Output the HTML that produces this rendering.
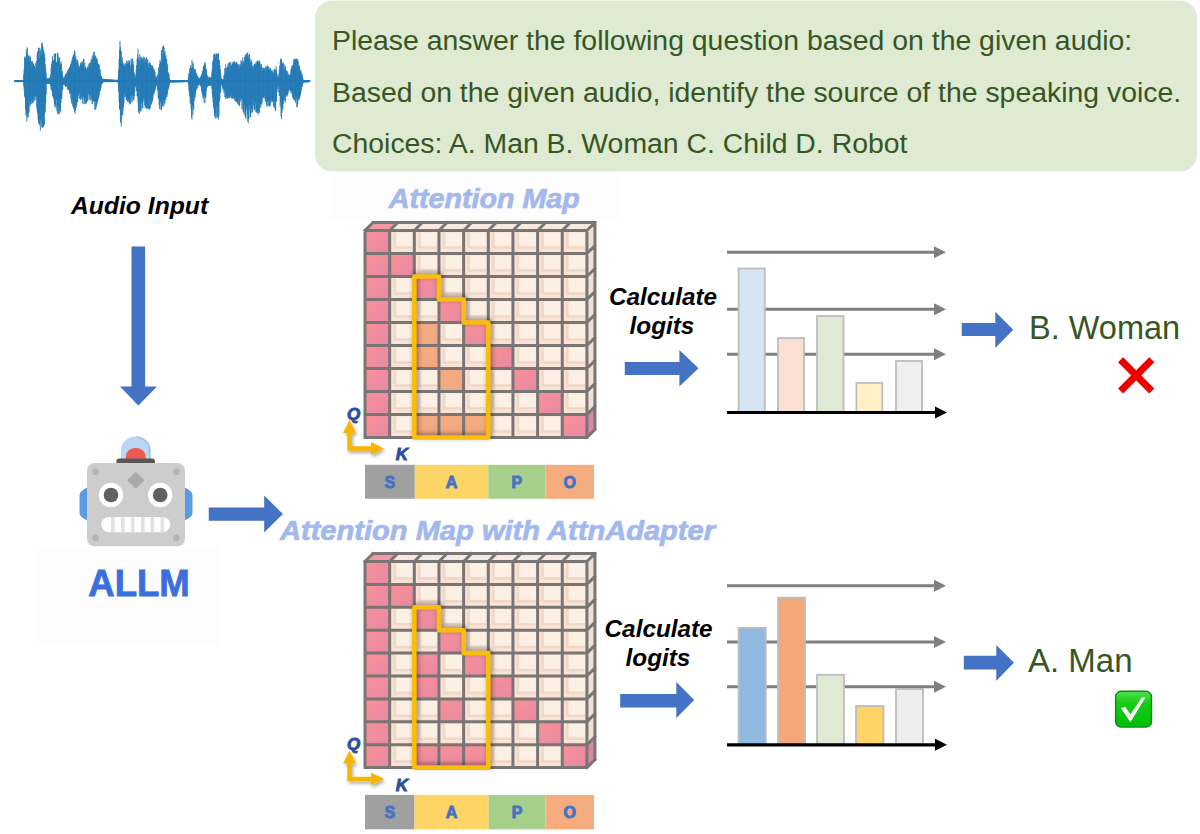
<!DOCTYPE html>
<html><head><meta charset="utf-8"><style>
html,body{margin:0;padding:0;background:#fff;width:1200px;height:834px;overflow:hidden}
svg{display:block}
text{font-family:"Liberation Sans",sans-serif}
</style></head><body>
<svg width="1200" height="834" viewBox="0 0 1200 834">
<defs>
<linearGradient id="pk" x1="0" y1="0" x2="1" y2="1"><stop offset="0" stop-color="#fb9098"/><stop offset="1" stop-color="#e48aa2"/></linearGradient>
<linearGradient id="or" x1="0" y1="0" x2="1" y2="1"><stop offset="0" stop-color="#f7aa80"/><stop offset="1" stop-color="#f0a884"/></linearGradient>
<filter id="blur" x="-20%" y="-20%" width="140%" height="140%"><feGaussianBlur stdDeviation="2.5"/></filter>
<filter id="sh" x="-30%" y="-30%" width="160%" height="160%"><feDropShadow dx="1.5" dy="2.5" stdDeviation="1.5" flood-color="#000" flood-opacity="0.3"/></filter>
</defs>
<rect width="1200" height="834" fill="#fff"/>
<rect x="315" y="0.5" width="882" height="171" rx="17" fill="#deead2"/><g fill="#375623" font-size="28.4"><text x="332" y="50.2">Please answer the following question based on the given audio:</text><text x="332" y="101.7">Based on the given audio, identify the source of the speaking voice.</text><text x="332" y="152.7">Choices: A. Man B. Woman C. Child D. Robot</text></g><path d="M14.67 80.07V82.07M15.12 80.07V82.07M15.57 80.07V82.07M16.02 80.07V82.07M16.47 80.07V82.07M16.92 80.07V82.07M17.37 80.07V82.07M17.82 80.07V82.07M18.27 80.07V82.07M18.72 80.07V82.07M19.17 80.07V82.07M19.62 80.07V82.07M20.07 80.07V82.07M20.52 80.07V82.07M20.97 80.07V82.07M21.42 80.07V82.07M21.87 80.07V82.07M22.32 80.07V82.07M22.77 80.07V82.07M23.22 80.07V82.07M23.67 74.23V86.30M24.12 68.79V90.54M24.57 57.45V96.44M25.02 56.29V97.68M25.47 57.73V109.19M25.92 62.18V115.44M26.37 51.42V113.64M26.82 48.80V121.76M27.27 47.30V116.76M27.72 54.67V116.81M28.17 58.25V117.79M28.62 55.66V112.90M29.07 55.24V112.81M29.52 60.53V102.19M29.97 56.75V106.59M30.42 56.63V104.33M30.87 60.95V97.12M31.32 64.41V104.29M31.77 61.07V101.02M32.22 61.27V102.58M32.67 62.28V103.38M33.12 63.13V98.74M33.57 64.09V102.38M34.02 65.56V96.57M34.47 65.92V100.78M34.92 66.85V95.81M35.37 68.01V95.82M35.82 63.05V99.82M36.27 60.97V96.92M36.72 65.36V107.18M37.17 54.32V111.24M37.62 51.40V113.63M38.07 51.68V119.54M38.52 47.58V122.45M38.97 47.89V124.19M39.42 57.89V124.22M39.87 47.87V125.59M40.32 49.74V130.79M40.77 54.67V120.09M41.22 53.37V119.05M41.67 43.61V127.21M42.12 42.25V122.66M42.57 44.53V127.88M43.02 47.10V127.14M43.47 49.97V126.74M43.92 51.47V126.01M44.37 53.82V124.23M44.82 57.09V110.88M45.27 64.42V112.74M45.72 67.75V102.97M46.17 73.08V94.28M46.62 78.17V83.75M47.07 78.65V83.93M47.52 78.56V83.93M47.97 78.47V83.93M48.42 78.38V83.93M48.87 78.29V83.93M49.32 78.20V83.93M49.77 78.11V83.93M50.22 76.39V83.85M50.67 74.27V86.53M51.12 68.10V89.50M51.57 63.95V89.95M52.02 61.48V91.74M52.47 56.36V96.57M52.92 60.02V92.53M53.37 60.74V96.88M53.82 59.97V99.64M54.27 53.81V103.51M54.72 54.22V106.40M55.17 53.32V107.12M55.62 53.56V104.49M56.07 62.60V108.34M56.52 62.05V99.91M56.97 62.41V111.12M57.42 52.98V112.90M57.87 52.81V114.10M58.32 56.72V105.37M58.77 61.25V114.44M59.22 59.36V109.73M59.67 57.41V113.74M60.12 65.37V110.72M60.57 63.87V111.68M61.02 61.39V102.98M61.47 63.73V99.02M61.92 71.87V98.51M62.37 71.10V90.06M62.82 75.47V89.50M63.27 78.20V84.63M63.72 77.97V84.41M64.17 76.98V84.25M64.62 77.67V85.11M65.07 75.26V85.84M65.52 74.20V86.81M65.97 75.86V86.64M66.42 73.12V85.91M66.87 72.18V86.65M67.32 73.29V89.07M67.77 70.40V89.56M68.22 69.66V89.41M68.67 68.95V90.46M69.12 68.08V89.33M69.57 67.31V93.86M70.02 66.93V91.97M70.47 64.64V93.08M70.92 63.65V98.66M71.37 62.40V101.99M71.82 60.43V103.72M72.27 57.88V100.37M72.72 56.48V106.00M73.17 59.32V106.92M73.62 53.99V109.04M74.07 54.41V106.46M74.52 50.39V111.93M74.97 51.17V113.93M75.42 58.01V110.50M75.87 56.18V105.26M76.32 62.99V107.87M76.77 59.36V105.73M77.22 59.73V102.08M77.67 60.67V102.30M78.12 62.20V95.47M78.57 65.32V95.36M79.02 69.46V98.72M79.47 66.18V92.50M79.92 68.20V98.72M80.37 63.46V98.66M80.82 62.78V100.15M81.27 62.11V98.37M81.72 65.46V95.94M82.17 60.85V99.19M82.62 62.92V103.47M83.07 65.43V96.22M83.52 58.98V97.06M83.97 59.00V104.36M84.42 67.98V99.65M84.87 62.91V103.88M85.32 66.44V103.87M85.77 67.87V103.46M86.22 70.72V103.44M86.67 69.04V101.86M87.12 67.15V101.90M87.57 68.06V100.42M88.02 65.61V94.01M88.47 68.18V93.92M88.92 64.08V100.08M89.37 63.29V96.05M89.82 62.78V99.28M90.27 62.32V94.16M90.72 65.00V100.52M91.17 59.07V95.47M91.62 59.93V99.48M92.07 56.55V103.89M92.52 59.13V103.87M92.97 54.07V97.93M93.42 56.26V101.36M93.87 51.60V101.11M94.32 52.04V101.74M94.77 54.66V109.41M95.22 56.65V101.72M95.67 55.87V110.03M96.12 58.53V107.95M96.57 57.86V106.29M97.02 58.99V104.37M97.47 60.57V102.26M97.92 65.04V100.49M98.37 63.70V98.88M98.82 64.08V97.12M99.27 64.97V95.26M99.72 69.34V92.38M100.17 69.31V90.96M100.62 74.48V89.69M101.07 75.43V87.55M101.52 76.48V84.92M101.97 78.57V84.07M102.42 78.77V83.35M102.87 78.81V82.72M103.32 78.84V82.09M103.77 78.88V82.07M104.22 78.92V82.07M104.67 78.96V82.07M105.12 78.99V82.07M105.57 79.03V82.07M106.02 79.07V82.07M106.47 79.11V82.07M106.92 79.14V82.07M107.37 79.18V82.07M107.82 79.22V82.07M108.27 79.26V82.07M108.72 79.29V82.07M109.17 79.33V82.07M109.62 79.37V82.07M110.07 79.41V82.07M110.52 79.44V82.07M110.97 79.48V82.07M111.42 79.52V82.07M111.87 79.56V82.07M112.32 79.59V82.07M112.77 79.63V82.07M113.22 79.67V82.07M113.67 79.71V82.07M114.12 79.74V82.07M114.57 79.78V82.07M115.02 79.82V82.07M115.47 79.86V82.07M115.92 79.89V82.07M116.37 79.93V82.07M116.82 79.97V82.07M117.27 80.01V82.07M117.72 80.04V82.07M118.17 77.11V84.17M118.62 69.67V91.78M119.07 59.03V102.07M119.52 49.93V109.63M119.97 40.95V109.70M120.42 46.53V121.84M120.87 50.42V123.12M121.32 51.47V126.49M121.77 58.75V114.92M122.22 57.48V115.74M122.67 61.86V114.89M123.12 65.39V110.67M123.57 63.40V106.82M124.02 66.12V103.15M124.47 65.95V92.96M124.92 63.56V97.48M125.37 63.14V96.09M125.82 65.42V97.18M126.27 63.77V99.78M126.72 61.02V100.14M127.17 64.28V100.57M127.62 62.17V101.53M128.07 59.93V101.81M128.52 62.57V99.44M128.97 62.43V102.89M129.42 60.78V102.58M129.87 60.28V104.39M130.32 65.21V104.12M130.77 66.72V96.52M131.22 58.58V102.15M131.67 63.64V95.29M132.12 59.44V102.12M132.57 58.29V95.11M133.02 60.94V99.51M133.47 64.31V99.54M133.92 72.12V100.52M134.37 73.40V96.33M134.82 76.35V91.80M135.27 78.23V87.56M135.72 74.73V86.34M136.17 69.24V85.69M136.62 65.01V91.12M137.07 59.10V96.23M137.52 54.52V96.86M137.97 48.85V102.44M138.42 57.34V112.57M138.87 60.35V109.64M139.32 60.59V113.86M139.77 54.21V112.44M140.22 64.59V109.62M140.67 56.54V110.64M141.12 57.39V111.26M141.57 58.29V103.35M142.02 59.77V100.46M142.47 58.52V108.49M142.92 58.79V107.92M143.37 56.75V98.44M143.82 62.11V101.58M144.27 56.91V99.66M144.72 61.95V105.64M145.17 58.20V108.10M145.62 59.17V106.88M146.07 60.24V105.00M146.52 56.81V108.65M146.97 64.76V108.78M147.42 59.57V108.29M147.87 59.58V104.19M148.32 67.55V109.03M148.77 63.60V109.05M149.22 63.24V108.71M149.67 62.20V109.84M150.12 62.83V101.16M150.57 64.44V107.72M151.02 68.90V96.79M151.47 65.28V104.49M151.92 65.11V102.84M152.37 65.99V101.14M152.82 66.33V99.22M153.27 68.05V93.12M153.72 69.81V95.45M154.17 68.90V93.33M154.62 70.58V92.17M155.07 72.09V90.45M155.52 76.28V88.72M155.97 76.12V86.25M156.42 77.73V85.00M156.87 77.63V85.81M157.32 75.21V89.60M157.77 75.22V90.97M158.22 72.82V98.37M158.67 67.35V99.10M159.12 69.42V105.21M159.57 63.93V108.91M160.02 59.87V100.41M160.47 61.96V102.30M160.92 63.03V109.69M161.37 50.22V110.29M161.82 49.75V106.43M162.27 56.34V106.07M162.72 46.87V105.41M163.17 45.68V107.29M163.62 45.52V102.63M164.07 47.70V98.78M164.52 53.29V104.65M164.97 51.14V103.30M165.42 56.38V98.80M165.87 54.83V100.47M166.32 58.48V97.20M166.77 59.53V97.14M167.22 63.75V95.24M167.67 64.98V92.56M168.12 72.13V89.93M168.57 73.42V88.67M169.02 73.64V87.02M169.47 77.92V84.50M169.92 79.53V82.97M170.37 80.07V82.59M170.82 80.07V82.58M171.27 80.07V82.56M171.72 80.07V82.55M172.17 80.07V82.54M172.62 80.07V82.52M173.07 80.07V82.51M173.52 80.07V82.50M173.97 80.07V82.48M174.42 80.07V82.47M174.87 80.07V82.46M175.32 80.07V82.44M175.77 80.07V82.43M176.22 80.07V82.42M176.67 80.07V82.40M177.12 80.07V82.39M177.57 80.07V82.38M178.02 80.07V82.36M178.47 80.07V82.35M178.92 80.07V82.34M179.37 80.07V82.32M179.82 80.07V82.31M180.27 80.07V82.30M180.72 80.07V82.28M181.17 80.07V82.27M181.62 80.07V82.26M182.07 80.07V82.24M182.52 80.07V82.23M182.97 80.07V82.22M183.42 80.07V82.20M183.87 80.07V82.19M184.32 80.07V82.18M184.77 80.07V82.16M185.22 80.07V82.15M185.67 80.07V82.14M186.12 80.07V82.12M186.57 80.07V82.11M187.02 80.07V82.10M187.47 80.07V82.08M187.92 80.07V82.07M188.37 77.06V84.56M188.82 72.78V90.19M189.27 74.11V93.33M189.72 69.02V96.41M190.17 67.30V103.60M190.62 65.15V103.32M191.07 68.66V109.14M191.52 67.83V117.57M191.97 59.81V119.67M192.42 67.46V106.22M192.87 62.36V115.19M193.32 63.67V110.04M193.77 69.31V108.35M194.22 68.59V100.71M194.67 69.69V97.37M195.12 69.34V97.46M195.57 69.81V93.90M196.02 73.14V90.83M196.47 72.86V88.46M196.92 74.50V89.29M197.37 75.97V87.92M197.82 76.53V85.50M198.27 77.91V84.98M198.72 77.40V86.20M199.17 77.90V85.18M199.62 78.35V84.57M200.07 78.50V84.24M200.52 77.25V85.74M200.97 76.19V86.79M201.42 74.54V90.65M201.87 74.10V92.59M202.32 71.28V94.47M202.77 70.84V96.92M203.22 67.24V98.94M203.67 65.52V95.67M204.12 65.48V102.87M204.57 62.92V96.42M205.02 62.01V103.23M205.47 65.10V97.72M205.92 70.41V96.94M206.37 68.72V90.88M206.82 73.89V87.74M207.27 75.39V87.13M207.72 76.07V86.59M208.17 77.76V85.98M208.62 77.70V86.16M209.07 77.60V85.92M209.52 76.73V85.10M209.97 78.06V85.84M210.42 77.36V85.22M210.87 77.18V85.41M211.32 77.31V85.35M211.77 72.35V88.80M212.22 68.79V94.02M212.67 61.74V98.16M213.12 60.02V102.89M213.57 54.46V107.27M214.02 59.63V109.30M214.47 53.68V116.31M214.92 54.58V115.22M215.37 56.87V118.54M215.82 53.44V112.93M216.27 54.34V118.27M216.72 53.65V106.16M217.17 53.56V115.67M217.62 53.68V117.71M218.07 60.22V104.93M218.52 53.49V119.40M218.97 59.90V115.44M219.42 59.93V101.27M219.87 65.06V98.44M220.32 69.21V93.08M220.77 73.55V91.55M221.22 77.62V85.22M221.67 78.96V84.16M222.12 79.26V86.33M222.57 79.56V88.17M223.02 79.86V90.21M223.47 79.00V88.73M223.92 75.26V92.97M224.37 73.55V90.53M224.82 67.92V97.12M225.27 69.61V92.58M225.72 64.51V99.00M226.17 68.80V98.27M226.62 68.37V96.76M227.07 67.17V98.59M227.52 66.58V98.39M227.97 63.39V94.14M228.42 66.88V98.22M228.87 62.52V97.55M229.32 63.58V97.50M229.77 62.13V97.77M230.22 65.19V93.06M230.67 61.86V96.25M231.12 65.37V98.08M231.57 66.33V98.40M232.02 63.56V97.29M232.47 63.70V98.77M232.92 62.13V97.68M233.37 62.05V97.34M233.82 62.05V99.25M234.27 60.93V98.31M234.72 62.14V100.66M235.17 64.99V97.13M235.62 62.53V101.45M236.07 62.91V101.91M236.52 62.14V101.51M236.97 62.43V101.97M237.42 64.00V103.60M237.87 65.21V104.14M238.32 66.40V99.94M238.77 64.67V105.27M239.22 64.00V105.01M239.67 68.39V106.32M240.12 66.47V97.22M240.57 64.29V101.48M241.02 60.25V98.27M241.47 60.84V99.25M241.92 65.55V109.05M242.37 62.92V100.62M242.82 57.48V109.70M243.27 61.37V111.68M243.72 63.45V112.59M244.17 61.59V114.24M244.62 57.13V104.92M245.07 55.12V116.41M245.52 56.30V117.35M245.97 54.00V119.23M246.42 53.64V107.85M246.87 57.12V110.11M247.32 52.73V114.45M247.77 52.19V121.12M248.22 55.29V123.24M248.67 59.30V119.44M249.12 55.32V110.36M249.57 53.90V105.60M250.02 58.28V117.56M250.47 61.80V117.08M250.92 66.42V112.79M251.37 59.80V108.22M251.82 61.49V113.25M252.27 65.26V112.01M252.72 67.23V110.26M253.17 66.49V98.95M253.62 66.27V105.26M254.07 64.54V109.67M254.52 63.73V110.15M254.97 65.26V109.43M255.42 64.09V102.64M255.87 62.38V111.69M256.32 64.36V112.56M256.77 61.41V112.22M257.22 60.98V112.77M257.67 60.67V111.00M258.12 62.14V114.64M258.57 62.05V113.42M259.02 60.14V103.62M259.47 61.12V112.81M259.92 61.73V107.65M260.37 67.46V103.97M260.82 64.01V108.02M261.27 64.14V103.61M261.72 66.38V104.71M262.17 67.68V102.74M262.62 71.16V98.66M263.07 67.54V95.08M263.52 68.20V97.94M263.97 69.48V97.67M264.42 68.43V95.41M264.87 67.73V98.77M265.32 71.51V101.74M265.77 66.44V100.78M266.22 66.70V101.65M266.67 68.54V105.85M267.12 65.63V106.87M267.57 65.69V100.91M268.02 69.10V105.29M268.47 66.43V102.14M268.92 69.35V106.68M269.37 69.62V105.91M269.82 67.67V106.32M270.27 68.04V105.42M270.72 68.59V100.18M271.17 70.50V97.98M271.62 70.93V102.35M272.07 70.38V101.04M272.52 72.06V101.61M272.97 70.28V101.58M273.42 73.89V105.54M273.87 72.48V106.98M274.32 68.58V107.94M274.77 69.89V100.09M275.22 69.16V110.00M275.67 69.82V111.20M276.12 65.99V102.17M276.57 70.61V101.10M277.02 73.73V92.10M277.47 76.29V89.18M277.92 79.46V84.27M278.37 77.20V86.84M278.82 74.01V92.52M279.27 69.70V95.68M279.72 65.92V96.02M280.17 62.26V107.21M280.62 58.53V102.22M281.07 59.38V116.75M281.52 59.58V118.88M281.97 63.49V112.51M282.42 64.21V108.86M282.87 61.97V109.62M283.32 63.31V104.00M283.77 67.55V100.93M284.22 64.36V99.98M284.67 69.90V97.03M285.12 65.96V102.66M285.57 66.90V101.13M286.02 71.18V95.57M286.47 70.47V94.35M286.92 71.40V96.70M287.37 71.22V95.56M287.82 73.87V94.09M288.27 73.53V92.29M288.72 74.45V91.27M289.17 75.62V88.61M289.62 74.95V89.98M290.07 75.59V90.59M290.52 73.50V91.09M290.97 69.21V92.92M291.42 67.99V91.88M291.87 65.91V93.33M292.32 65.03V96.54M292.77 66.80V97.73M293.22 64.79V98.75M293.67 59.34V99.78M294.12 63.38V93.89M294.57 59.03V100.73M295.02 60.30V98.43M295.47 58.85V102.73M295.92 59.17V99.52M296.37 58.71V98.09M296.82 58.63V107.27M297.27 61.66V106.73M297.72 59.36V103.85M298.17 60.79V100.04M298.62 65.11V98.49M299.07 65.73V100.50M299.52 65.76V98.42M299.97 70.63V97.08M300.42 71.65V95.11M300.87 69.60V92.97M301.32 73.82V90.48M301.77 72.71V87.02M302.22 74.37V86.92M302.67 76.93V84.66M303.12 78.98V83.47M303.57 80.07V82.58M304.02 80.07V82.55M304.47 80.07V82.51M304.92 80.07V82.47M305.37 80.07V82.44M305.82 80.07V82.40M306.27 80.07V82.37M306.72 80.07V82.33M307.17 80.07V82.29M307.62 80.07V82.26M308.07 80.07V82.22M308.52 80.07V82.19M308.97 80.07V82.15M309.42 80.07V82.11M309.87 80.07V82.08" stroke="#1f77b4" stroke-width="0.9" fill="none"/><line x1="14.7" y1="81.07" x2="310.0" y2="81.07" stroke="#1f77b4" stroke-width="1.1"/><text x="71" y="213.7" font-size="24.7" font-weight="bold" font-style="italic" fill="#000">Audio Input</text><path d="M131.5,246.4 H145.1 V386.6 H157 L138.3,405.5 L120,386.6 H131.5 Z" fill="#4472c4"/><path d="M87,487.5 L83,490 Q79.5,492 79.5,496 L79.5,512 Q79.5,516 83,518 L87,520.5 Z" fill="#5b9be0"/><path d="M185,487.5 L189,490 Q192.5,492 192.5,496 L192.5,512 Q192.5,516 189,518 L185,520.5 Z" fill="#5b9be0"/><path d="M121,459 L121,450 A14.75,13.5 0 0 1 150.5,450 L150.5,459 Z" fill="#b9d6f2"/><path d="M136,436.8 A14.75,13.5 0 0 1 149.8,450 L149.8,459" stroke="#9dbcd8" stroke-width="1.3" fill="none"/><path d="M126,459 L126,456 A9.75,8 0 0 1 145.5,456 L145.5,459 Z" fill="#ee5a4f"/><path d="M119,458.5 H152 Q155,458.5 155,462 V463.5 H116.3 V462 Q116.3,458.5 119,458.5 Z" fill="#575757"/><rect x="87" y="463" width="98" height="83.5" rx="8" fill="#cdcdcd"/><circle cx="95.6" cy="471.7" r="3.4" fill="#b5b5b5"/><circle cx="176.4" cy="471.7" r="3.4" fill="#b5b5b5"/><circle cx="95.6" cy="537.9" r="3.4" fill="#b5b5b5"/><circle cx="176.4" cy="537.9" r="3.4" fill="#b5b5b5"/><rect x="129.6" y="474.2" width="12.2" height="12.2" rx="1.5" fill="#a9a9a9" transform="rotate(45 135.7 480.3)"/><circle cx="111" cy="495" r="12.2" fill="#fff"/><circle cx="111" cy="495" r="7.3" fill="#616161"/><circle cx="160.2" cy="495" r="12.2" fill="#fff"/><circle cx="160.2" cy="495" r="7.3" fill="#616161"/><rect x="101.3" y="517" width="69" height="15.2" rx="7.6" fill="#fff"/><rect x="111" y="517" width="3.6" height="15.2" fill="#e2e2e2"/><rect x="121" y="517" width="3.6" height="15.2" fill="#e2e2e2"/><rect x="131" y="517" width="3.6" height="15.2" fill="#e2e2e2"/><rect x="141" y="517" width="3.6" height="15.2" fill="#e2e2e2"/><rect x="150.5" y="517" width="3.6" height="15.2" fill="#e2e2e2"/><rect x="160.5" y="517" width="3.6" height="15.2" fill="#e2e2e2"/><rect x="37.4" y="546.5" width="182.6" height="99" fill="#fdfdfd"/><text x="88.3" y="596.2" font-size="36.3" font-weight="bold" fill="#3b6fdc" stroke="#3b6fdc" stroke-width="0.8" textLength="101.5" lengthAdjust="spacingAndGlyphs">ALLM</text><path d="M208.75,507.5 L264.2,507.5 L264.2,495.4 L282.9,513.95 L264.2,532.5 L264.2,520.8 L208.75,520.8 Z" fill="#4472c4"/><rect x="330" y="174" width="289" height="45.5" fill="#fdfdfd"/><text x="388.75" y="208" font-size="27" font-weight="bold" font-style="italic" fill="#a3b8ee" stroke="#a3b8ee" stroke-width="0.7" textLength="191" lengthAdjust="spacingAndGlyphs">Attention Map</text><text x="280" y="540.3" font-size="27" font-weight="bold" font-style="italic" fill="#a3b8ee" stroke="#a3b8ee" stroke-width="0.7" textLength="435" lengthAdjust="spacingAndGlyphs">Attention Map with AttnAdapter</text><polygon points="365.00,230.50 373.00,222.50 397.66,222.50 389.66,230.50" fill="#f29aa3"/><polygon points="389.66,230.50 397.66,222.50 422.32,222.50 414.32,230.50" fill="#f7e9df"/><polygon points="414.32,230.50 422.32,222.50 446.98,222.50 438.98,230.50" fill="#f7e9df"/><polygon points="438.98,230.50 446.98,222.50 471.64,222.50 463.64,230.50" fill="#f7e9df"/><polygon points="463.64,230.50 471.64,222.50 496.30,222.50 488.30,230.50" fill="#f7e9df"/><polygon points="488.30,230.50 496.30,222.50 520.96,222.50 512.96,230.50" fill="#f7e9df"/><polygon points="512.96,230.50 520.96,222.50 545.62,222.50 537.62,230.50" fill="#f7e9df"/><polygon points="537.62,230.50 545.62,222.50 570.28,222.50 562.28,230.50" fill="#f7e9df"/><polygon points="562.28,230.50 570.28,222.50 594.94,222.50 586.94,230.50" fill="#f7e9df"/><polygon points="586.94,230.50 594.94,222.50 594.94,245.50 586.94,253.50" fill="#f0e0d6"/><polygon points="586.94,253.50 594.94,245.50 594.94,268.50 586.94,276.50" fill="#f0e0d6"/><polygon points="586.94,276.50 594.94,268.50 594.94,291.50 586.94,299.50" fill="#f0e0d6"/><polygon points="586.94,299.50 594.94,291.50 594.94,314.50 586.94,322.50" fill="#f0e0d6"/><polygon points="586.94,322.50 594.94,314.50 594.94,337.50 586.94,345.50" fill="#f0e0d6"/><polygon points="586.94,345.50 594.94,337.50 594.94,360.50 586.94,368.50" fill="#f0e0d6"/><polygon points="586.94,368.50 594.94,360.50 594.94,383.50 586.94,391.50" fill="#f0e0d6"/><polygon points="586.94,391.50 594.94,383.50 594.94,406.50 586.94,414.50" fill="#f0e0d6"/><polygon points="586.94,414.50 594.94,406.50 594.94,429.50 586.94,437.50" fill="#d48aa0"/><rect x="365.00" y="230.50" width="24.66" height="23.00" fill="url(#pk)"/><rect x="389.66" y="230.50" width="24.66" height="23.00" fill="#f9e4d6"/><rect x="395.66" y="232.50" width="16.66" height="14.00" fill="#fcf0e4"/><path d="M394.66,232.50 V247.50 H412.32" stroke="#efd8c9" stroke-width="2.6" fill="none"/><rect x="414.32" y="230.50" width="24.66" height="23.00" fill="#f9e4d6"/><rect x="420.32" y="232.50" width="16.66" height="14.00" fill="#fcf0e4"/><path d="M419.32,232.50 V247.50 H436.98" stroke="#efd8c9" stroke-width="2.6" fill="none"/><rect x="438.98" y="230.50" width="24.66" height="23.00" fill="#f9e4d6"/><rect x="444.98" y="232.50" width="16.66" height="14.00" fill="#fcf0e4"/><path d="M443.98,232.50 V247.50 H461.64" stroke="#efd8c9" stroke-width="2.6" fill="none"/><rect x="463.64" y="230.50" width="24.66" height="23.00" fill="#f9e4d6"/><rect x="469.64" y="232.50" width="16.66" height="14.00" fill="#fcf0e4"/><path d="M468.64,232.50 V247.50 H486.30" stroke="#efd8c9" stroke-width="2.6" fill="none"/><rect x="488.30" y="230.50" width="24.66" height="23.00" fill="#f9e4d6"/><rect x="494.30" y="232.50" width="16.66" height="14.00" fill="#fcf0e4"/><path d="M493.30,232.50 V247.50 H510.96" stroke="#efd8c9" stroke-width="2.6" fill="none"/><rect x="512.96" y="230.50" width="24.66" height="23.00" fill="#f9e4d6"/><rect x="518.96" y="232.50" width="16.66" height="14.00" fill="#fcf0e4"/><path d="M517.96,232.50 V247.50 H535.62" stroke="#efd8c9" stroke-width="2.6" fill="none"/><rect x="537.62" y="230.50" width="24.66" height="23.00" fill="#f9e4d6"/><rect x="543.62" y="232.50" width="16.66" height="14.00" fill="#fcf0e4"/><path d="M542.62,232.50 V247.50 H560.28" stroke="#efd8c9" stroke-width="2.6" fill="none"/><rect x="562.28" y="230.50" width="24.66" height="23.00" fill="#f9e4d6"/><rect x="568.28" y="232.50" width="16.66" height="14.00" fill="#fcf0e4"/><path d="M567.28,232.50 V247.50 H584.94" stroke="#efd8c9" stroke-width="2.6" fill="none"/><rect x="365.00" y="253.50" width="24.66" height="23.00" fill="url(#pk)"/><rect x="389.66" y="253.50" width="24.66" height="23.00" fill="url(#pk)"/><rect x="414.32" y="253.50" width="24.66" height="23.00" fill="#f9e4d6"/><rect x="420.32" y="255.50" width="16.66" height="14.00" fill="#fcf0e4"/><path d="M419.32,255.50 V270.50 H436.98" stroke="#efd8c9" stroke-width="2.6" fill="none"/><rect x="438.98" y="253.50" width="24.66" height="23.00" fill="#f9e4d6"/><rect x="444.98" y="255.50" width="16.66" height="14.00" fill="#fcf0e4"/><path d="M443.98,255.50 V270.50 H461.64" stroke="#efd8c9" stroke-width="2.6" fill="none"/><rect x="463.64" y="253.50" width="24.66" height="23.00" fill="#f9e4d6"/><rect x="469.64" y="255.50" width="16.66" height="14.00" fill="#fcf0e4"/><path d="M468.64,255.50 V270.50 H486.30" stroke="#efd8c9" stroke-width="2.6" fill="none"/><rect x="488.30" y="253.50" width="24.66" height="23.00" fill="#f9e4d6"/><rect x="494.30" y="255.50" width="16.66" height="14.00" fill="#fcf0e4"/><path d="M493.30,255.50 V270.50 H510.96" stroke="#efd8c9" stroke-width="2.6" fill="none"/><rect x="512.96" y="253.50" width="24.66" height="23.00" fill="#f9e4d6"/><rect x="518.96" y="255.50" width="16.66" height="14.00" fill="#fcf0e4"/><path d="M517.96,255.50 V270.50 H535.62" stroke="#efd8c9" stroke-width="2.6" fill="none"/><rect x="537.62" y="253.50" width="24.66" height="23.00" fill="#f9e4d6"/><rect x="543.62" y="255.50" width="16.66" height="14.00" fill="#fcf0e4"/><path d="M542.62,255.50 V270.50 H560.28" stroke="#efd8c9" stroke-width="2.6" fill="none"/><rect x="562.28" y="253.50" width="24.66" height="23.00" fill="#f9e4d6"/><rect x="568.28" y="255.50" width="16.66" height="14.00" fill="#fcf0e4"/><path d="M567.28,255.50 V270.50 H584.94" stroke="#efd8c9" stroke-width="2.6" fill="none"/><rect x="365.00" y="276.50" width="24.66" height="23.00" fill="url(#pk)"/><rect x="389.66" y="276.50" width="24.66" height="23.00" fill="#f9e4d6"/><rect x="395.66" y="278.50" width="16.66" height="14.00" fill="#fcf0e4"/><path d="M394.66,278.50 V293.50 H412.32" stroke="#efd8c9" stroke-width="2.6" fill="none"/><rect x="414.32" y="276.50" width="24.66" height="23.00" fill="url(#pk)"/><rect x="438.98" y="276.50" width="24.66" height="23.00" fill="#f9e4d6"/><rect x="444.98" y="278.50" width="16.66" height="14.00" fill="#fcf0e4"/><path d="M443.98,278.50 V293.50 H461.64" stroke="#efd8c9" stroke-width="2.6" fill="none"/><rect x="463.64" y="276.50" width="24.66" height="23.00" fill="#f9e4d6"/><rect x="469.64" y="278.50" width="16.66" height="14.00" fill="#fcf0e4"/><path d="M468.64,278.50 V293.50 H486.30" stroke="#efd8c9" stroke-width="2.6" fill="none"/><rect x="488.30" y="276.50" width="24.66" height="23.00" fill="#f9e4d6"/><rect x="494.30" y="278.50" width="16.66" height="14.00" fill="#fcf0e4"/><path d="M493.30,278.50 V293.50 H510.96" stroke="#efd8c9" stroke-width="2.6" fill="none"/><rect x="512.96" y="276.50" width="24.66" height="23.00" fill="#f9e4d6"/><rect x="518.96" y="278.50" width="16.66" height="14.00" fill="#fcf0e4"/><path d="M517.96,278.50 V293.50 H535.62" stroke="#efd8c9" stroke-width="2.6" fill="none"/><rect x="537.62" y="276.50" width="24.66" height="23.00" fill="#f9e4d6"/><rect x="543.62" y="278.50" width="16.66" height="14.00" fill="#fcf0e4"/><path d="M542.62,278.50 V293.50 H560.28" stroke="#efd8c9" stroke-width="2.6" fill="none"/><rect x="562.28" y="276.50" width="24.66" height="23.00" fill="#f9e4d6"/><rect x="568.28" y="278.50" width="16.66" height="14.00" fill="#fcf0e4"/><path d="M567.28,278.50 V293.50 H584.94" stroke="#efd8c9" stroke-width="2.6" fill="none"/><rect x="365.00" y="299.50" width="24.66" height="23.00" fill="url(#pk)"/><rect x="389.66" y="299.50" width="24.66" height="23.00" fill="#f9e4d6"/><rect x="395.66" y="301.50" width="16.66" height="14.00" fill="#fcf0e4"/><path d="M394.66,301.50 V316.50 H412.32" stroke="#efd8c9" stroke-width="2.6" fill="none"/><rect x="414.32" y="299.50" width="24.66" height="23.00" fill="#f9e4d6"/><rect x="420.32" y="301.50" width="16.66" height="14.00" fill="#fcf0e4"/><path d="M419.32,301.50 V316.50 H436.98" stroke="#efd8c9" stroke-width="2.6" fill="none"/><rect x="438.98" y="299.50" width="24.66" height="23.00" fill="url(#pk)"/><rect x="463.64" y="299.50" width="24.66" height="23.00" fill="#f9e4d6"/><rect x="469.64" y="301.50" width="16.66" height="14.00" fill="#fcf0e4"/><path d="M468.64,301.50 V316.50 H486.30" stroke="#efd8c9" stroke-width="2.6" fill="none"/><rect x="488.30" y="299.50" width="24.66" height="23.00" fill="#f9e4d6"/><rect x="494.30" y="301.50" width="16.66" height="14.00" fill="#fcf0e4"/><path d="M493.30,301.50 V316.50 H510.96" stroke="#efd8c9" stroke-width="2.6" fill="none"/><rect x="512.96" y="299.50" width="24.66" height="23.00" fill="#f9e4d6"/><rect x="518.96" y="301.50" width="16.66" height="14.00" fill="#fcf0e4"/><path d="M517.96,301.50 V316.50 H535.62" stroke="#efd8c9" stroke-width="2.6" fill="none"/><rect x="537.62" y="299.50" width="24.66" height="23.00" fill="#f9e4d6"/><rect x="543.62" y="301.50" width="16.66" height="14.00" fill="#fcf0e4"/><path d="M542.62,301.50 V316.50 H560.28" stroke="#efd8c9" stroke-width="2.6" fill="none"/><rect x="562.28" y="299.50" width="24.66" height="23.00" fill="#f9e4d6"/><rect x="568.28" y="301.50" width="16.66" height="14.00" fill="#fcf0e4"/><path d="M567.28,301.50 V316.50 H584.94" stroke="#efd8c9" stroke-width="2.6" fill="none"/><rect x="365.00" y="322.50" width="24.66" height="23.00" fill="url(#pk)"/><rect x="389.66" y="322.50" width="24.66" height="23.00" fill="#f9e4d6"/><rect x="395.66" y="324.50" width="16.66" height="14.00" fill="#fcf0e4"/><path d="M394.66,324.50 V339.50 H412.32" stroke="#efd8c9" stroke-width="2.6" fill="none"/><rect x="414.32" y="322.50" width="24.66" height="23.00" fill="url(#or)"/><rect x="438.98" y="322.50" width="24.66" height="23.00" fill="#f9e4d6"/><rect x="444.98" y="324.50" width="16.66" height="14.00" fill="#fcf0e4"/><path d="M443.98,324.50 V339.50 H461.64" stroke="#efd8c9" stroke-width="2.6" fill="none"/><rect x="463.64" y="322.50" width="24.66" height="23.00" fill="url(#pk)"/><rect x="488.30" y="322.50" width="24.66" height="23.00" fill="#f9e4d6"/><rect x="494.30" y="324.50" width="16.66" height="14.00" fill="#fcf0e4"/><path d="M493.30,324.50 V339.50 H510.96" stroke="#efd8c9" stroke-width="2.6" fill="none"/><rect x="512.96" y="322.50" width="24.66" height="23.00" fill="#f9e4d6"/><rect x="518.96" y="324.50" width="16.66" height="14.00" fill="#fcf0e4"/><path d="M517.96,324.50 V339.50 H535.62" stroke="#efd8c9" stroke-width="2.6" fill="none"/><rect x="537.62" y="322.50" width="24.66" height="23.00" fill="#f9e4d6"/><rect x="543.62" y="324.50" width="16.66" height="14.00" fill="#fcf0e4"/><path d="M542.62,324.50 V339.50 H560.28" stroke="#efd8c9" stroke-width="2.6" fill="none"/><rect x="562.28" y="322.50" width="24.66" height="23.00" fill="#f9e4d6"/><rect x="568.28" y="324.50" width="16.66" height="14.00" fill="#fcf0e4"/><path d="M567.28,324.50 V339.50 H584.94" stroke="#efd8c9" stroke-width="2.6" fill="none"/><rect x="365.00" y="345.50" width="24.66" height="23.00" fill="url(#pk)"/><rect x="389.66" y="345.50" width="24.66" height="23.00" fill="#f9e4d6"/><rect x="395.66" y="347.50" width="16.66" height="14.00" fill="#fcf0e4"/><path d="M394.66,347.50 V362.50 H412.32" stroke="#efd8c9" stroke-width="2.6" fill="none"/><rect x="414.32" y="345.50" width="24.66" height="23.00" fill="url(#or)"/><rect x="438.98" y="345.50" width="24.66" height="23.00" fill="#f9e4d6"/><rect x="444.98" y="347.50" width="16.66" height="14.00" fill="#fcf0e4"/><path d="M443.98,347.50 V362.50 H461.64" stroke="#efd8c9" stroke-width="2.6" fill="none"/><rect x="463.64" y="345.50" width="24.66" height="23.00" fill="#f9e4d6"/><rect x="469.64" y="347.50" width="16.66" height="14.00" fill="#fcf0e4"/><path d="M468.64,347.50 V362.50 H486.30" stroke="#efd8c9" stroke-width="2.6" fill="none"/><rect x="488.30" y="345.50" width="24.66" height="23.00" fill="url(#pk)"/><rect x="512.96" y="345.50" width="24.66" height="23.00" fill="#f9e4d6"/><rect x="518.96" y="347.50" width="16.66" height="14.00" fill="#fcf0e4"/><path d="M517.96,347.50 V362.50 H535.62" stroke="#efd8c9" stroke-width="2.6" fill="none"/><rect x="537.62" y="345.50" width="24.66" height="23.00" fill="#f9e4d6"/><rect x="543.62" y="347.50" width="16.66" height="14.00" fill="#fcf0e4"/><path d="M542.62,347.50 V362.50 H560.28" stroke="#efd8c9" stroke-width="2.6" fill="none"/><rect x="562.28" y="345.50" width="24.66" height="23.00" fill="#f9e4d6"/><rect x="568.28" y="347.50" width="16.66" height="14.00" fill="#fcf0e4"/><path d="M567.28,347.50 V362.50 H584.94" stroke="#efd8c9" stroke-width="2.6" fill="none"/><rect x="365.00" y="368.50" width="24.66" height="23.00" fill="url(#pk)"/><rect x="389.66" y="368.50" width="24.66" height="23.00" fill="#f9e4d6"/><rect x="395.66" y="370.50" width="16.66" height="14.00" fill="#fcf0e4"/><path d="M394.66,370.50 V385.50 H412.32" stroke="#efd8c9" stroke-width="2.6" fill="none"/><rect x="414.32" y="368.50" width="24.66" height="23.00" fill="#f9e4d6"/><rect x="420.32" y="370.50" width="16.66" height="14.00" fill="#fcf0e4"/><path d="M419.32,370.50 V385.50 H436.98" stroke="#efd8c9" stroke-width="2.6" fill="none"/><rect x="438.98" y="368.50" width="24.66" height="23.00" fill="url(#or)"/><rect x="463.64" y="368.50" width="24.66" height="23.00" fill="#f9e4d6"/><rect x="469.64" y="370.50" width="16.66" height="14.00" fill="#fcf0e4"/><path d="M468.64,370.50 V385.50 H486.30" stroke="#efd8c9" stroke-width="2.6" fill="none"/><rect x="488.30" y="368.50" width="24.66" height="23.00" fill="#f9e4d6"/><rect x="494.30" y="370.50" width="16.66" height="14.00" fill="#fcf0e4"/><path d="M493.30,370.50 V385.50 H510.96" stroke="#efd8c9" stroke-width="2.6" fill="none"/><rect x="512.96" y="368.50" width="24.66" height="23.00" fill="url(#pk)"/><rect x="537.62" y="368.50" width="24.66" height="23.00" fill="#f9e4d6"/><rect x="543.62" y="370.50" width="16.66" height="14.00" fill="#fcf0e4"/><path d="M542.62,370.50 V385.50 H560.28" stroke="#efd8c9" stroke-width="2.6" fill="none"/><rect x="562.28" y="368.50" width="24.66" height="23.00" fill="#f9e4d6"/><rect x="568.28" y="370.50" width="16.66" height="14.00" fill="#fcf0e4"/><path d="M567.28,370.50 V385.50 H584.94" stroke="#efd8c9" stroke-width="2.6" fill="none"/><rect x="365.00" y="391.50" width="24.66" height="23.00" fill="url(#pk)"/><rect x="389.66" y="391.50" width="24.66" height="23.00" fill="#f9e4d6"/><rect x="395.66" y="393.50" width="16.66" height="14.00" fill="#fcf0e4"/><path d="M394.66,393.50 V408.50 H412.32" stroke="#efd8c9" stroke-width="2.6" fill="none"/><rect x="414.32" y="391.50" width="24.66" height="23.00" fill="#f9e4d6"/><rect x="420.32" y="393.50" width="16.66" height="14.00" fill="#fcf0e4"/><path d="M419.32,393.50 V408.50 H436.98" stroke="#efd8c9" stroke-width="2.6" fill="none"/><rect x="438.98" y="391.50" width="24.66" height="23.00" fill="#f9e4d6"/><rect x="444.98" y="393.50" width="16.66" height="14.00" fill="#fcf0e4"/><path d="M443.98,393.50 V408.50 H461.64" stroke="#efd8c9" stroke-width="2.6" fill="none"/><rect x="463.64" y="391.50" width="24.66" height="23.00" fill="#f9e4d6"/><rect x="469.64" y="393.50" width="16.66" height="14.00" fill="#fcf0e4"/><path d="M468.64,393.50 V408.50 H486.30" stroke="#efd8c9" stroke-width="2.6" fill="none"/><rect x="488.30" y="391.50" width="24.66" height="23.00" fill="#f9e4d6"/><rect x="494.30" y="393.50" width="16.66" height="14.00" fill="#fcf0e4"/><path d="M493.30,393.50 V408.50 H510.96" stroke="#efd8c9" stroke-width="2.6" fill="none"/><rect x="512.96" y="391.50" width="24.66" height="23.00" fill="#f9e4d6"/><rect x="518.96" y="393.50" width="16.66" height="14.00" fill="#fcf0e4"/><path d="M517.96,393.50 V408.50 H535.62" stroke="#efd8c9" stroke-width="2.6" fill="none"/><rect x="537.62" y="391.50" width="24.66" height="23.00" fill="url(#pk)"/><rect x="562.28" y="391.50" width="24.66" height="23.00" fill="#f9e4d6"/><rect x="568.28" y="393.50" width="16.66" height="14.00" fill="#fcf0e4"/><path d="M567.28,393.50 V408.50 H584.94" stroke="#efd8c9" stroke-width="2.6" fill="none"/><rect x="365.00" y="414.50" width="24.66" height="23.00" fill="url(#pk)"/><rect x="389.66" y="414.50" width="24.66" height="23.00" fill="#f9e4d6"/><rect x="395.66" y="416.50" width="16.66" height="14.00" fill="#fcf0e4"/><path d="M394.66,416.50 V431.50 H412.32" stroke="#efd8c9" stroke-width="2.6" fill="none"/><rect x="414.32" y="414.50" width="24.66" height="23.00" fill="url(#or)"/><rect x="438.98" y="414.50" width="24.66" height="23.00" fill="url(#or)"/><rect x="463.64" y="414.50" width="24.66" height="23.00" fill="url(#or)"/><rect x="488.30" y="414.50" width="24.66" height="23.00" fill="#f9e4d6"/><rect x="494.30" y="416.50" width="16.66" height="14.00" fill="#fcf0e4"/><path d="M493.30,416.50 V431.50 H510.96" stroke="#efd8c9" stroke-width="2.6" fill="none"/><rect x="512.96" y="414.50" width="24.66" height="23.00" fill="#f9e4d6"/><rect x="518.96" y="416.50" width="16.66" height="14.00" fill="#fcf0e4"/><path d="M517.96,416.50 V431.50 H535.62" stroke="#efd8c9" stroke-width="2.6" fill="none"/><rect x="537.62" y="414.50" width="24.66" height="23.00" fill="#f9e4d6"/><rect x="543.62" y="416.50" width="16.66" height="14.00" fill="#fcf0e4"/><path d="M542.62,416.50 V431.50 H560.28" stroke="#efd8c9" stroke-width="2.6" fill="none"/><rect x="562.28" y="414.50" width="24.66" height="23.00" fill="url(#pk)"/><path d="M365.00,230.50V437.50M365.00,230.50L373.00,222.50M389.66,230.50V437.50M389.66,230.50L397.66,222.50M414.32,230.50V437.50M414.32,230.50L422.32,222.50M438.98,230.50V437.50M438.98,230.50L446.98,222.50M463.64,230.50V437.50M463.64,230.50L471.64,222.50M488.30,230.50V437.50M488.30,230.50L496.30,222.50M512.96,230.50V437.50M512.96,230.50L520.96,222.50M537.62,230.50V437.50M537.62,230.50L545.62,222.50M562.28,230.50V437.50M562.28,230.50L570.28,222.50M586.94,230.50V437.50M586.94,230.50L594.94,222.50M365.00,230.50H586.94M586.94,230.50L594.94,222.50M365.00,253.50H586.94M586.94,253.50L594.94,245.50M365.00,276.50H586.94M586.94,276.50L594.94,268.50M365.00,299.50H586.94M586.94,299.50L594.94,291.50M365.00,322.50H586.94M586.94,322.50L594.94,314.50M365.00,345.50H586.94M586.94,345.50L594.94,337.50M365.00,368.50H586.94M586.94,368.50L594.94,360.50M365.00,391.50H586.94M586.94,391.50L594.94,383.50M365.00,414.50H586.94M586.94,414.50L594.94,406.50M365.00,437.50H586.94M586.94,437.50L594.94,429.50M373.00,222.50H594.94V429.50" stroke="#787574" stroke-width="3" fill="none" stroke-linecap="square"/><path d="M414.32,276.50H438.98V299.50H463.64V322.50H488.30V437.50H414.32Z" stroke="#000" stroke-opacity="0.5" stroke-width="4" fill="none" filter="url(#blur)" transform="translate(1.5,-1.5)"/><path d="M414.32,276.50H438.98V299.50H463.64V322.50H488.30V437.50H414.32Z" stroke="#fbbd0c" stroke-width="4.6" fill="none" stroke-linejoin="round"/><polygon points="365.00,561.50 373.00,553.50 397.66,553.50 389.66,561.50" fill="#f29aa3"/><polygon points="389.66,561.50 397.66,553.50 422.32,553.50 414.32,561.50" fill="#f7e9df"/><polygon points="414.32,561.50 422.32,553.50 446.98,553.50 438.98,561.50" fill="#f7e9df"/><polygon points="438.98,561.50 446.98,553.50 471.64,553.50 463.64,561.50" fill="#f7e9df"/><polygon points="463.64,561.50 471.64,553.50 496.30,553.50 488.30,561.50" fill="#f7e9df"/><polygon points="488.30,561.50 496.30,553.50 520.96,553.50 512.96,561.50" fill="#f7e9df"/><polygon points="512.96,561.50 520.96,553.50 545.62,553.50 537.62,561.50" fill="#f7e9df"/><polygon points="537.62,561.50 545.62,553.50 570.28,553.50 562.28,561.50" fill="#f7e9df"/><polygon points="562.28,561.50 570.28,553.50 594.94,553.50 586.94,561.50" fill="#f7e9df"/><polygon points="586.94,561.50 594.94,553.50 594.94,576.40 586.94,584.40" fill="#f0e0d6"/><polygon points="586.94,584.40 594.94,576.40 594.94,599.30 586.94,607.30" fill="#f0e0d6"/><polygon points="586.94,607.30 594.94,599.30 594.94,622.20 586.94,630.20" fill="#f0e0d6"/><polygon points="586.94,630.20 594.94,622.20 594.94,645.10 586.94,653.10" fill="#f0e0d6"/><polygon points="586.94,653.10 594.94,645.10 594.94,668.00 586.94,676.00" fill="#f0e0d6"/><polygon points="586.94,676.00 594.94,668.00 594.94,690.90 586.94,698.90" fill="#f0e0d6"/><polygon points="586.94,698.90 594.94,690.90 594.94,713.80 586.94,721.80" fill="#f0e0d6"/><polygon points="586.94,721.80 594.94,713.80 594.94,736.70 586.94,744.70" fill="#f0e0d6"/><polygon points="586.94,744.70 594.94,736.70 594.94,759.60 586.94,767.60" fill="#d48aa0"/><rect x="365.00" y="561.50" width="24.66" height="22.90" fill="url(#pk)"/><rect x="389.66" y="561.50" width="24.66" height="22.90" fill="#f9e4d6"/><rect x="395.66" y="563.50" width="16.66" height="13.90" fill="#fcf0e4"/><path d="M394.66,563.50 V578.40 H412.32" stroke="#efd8c9" stroke-width="2.6" fill="none"/><rect x="414.32" y="561.50" width="24.66" height="22.90" fill="#f9e4d6"/><rect x="420.32" y="563.50" width="16.66" height="13.90" fill="#fcf0e4"/><path d="M419.32,563.50 V578.40 H436.98" stroke="#efd8c9" stroke-width="2.6" fill="none"/><rect x="438.98" y="561.50" width="24.66" height="22.90" fill="#f9e4d6"/><rect x="444.98" y="563.50" width="16.66" height="13.90" fill="#fcf0e4"/><path d="M443.98,563.50 V578.40 H461.64" stroke="#efd8c9" stroke-width="2.6" fill="none"/><rect x="463.64" y="561.50" width="24.66" height="22.90" fill="#f9e4d6"/><rect x="469.64" y="563.50" width="16.66" height="13.90" fill="#fcf0e4"/><path d="M468.64,563.50 V578.40 H486.30" stroke="#efd8c9" stroke-width="2.6" fill="none"/><rect x="488.30" y="561.50" width="24.66" height="22.90" fill="#f9e4d6"/><rect x="494.30" y="563.50" width="16.66" height="13.90" fill="#fcf0e4"/><path d="M493.30,563.50 V578.40 H510.96" stroke="#efd8c9" stroke-width="2.6" fill="none"/><rect x="512.96" y="561.50" width="24.66" height="22.90" fill="#f9e4d6"/><rect x="518.96" y="563.50" width="16.66" height="13.90" fill="#fcf0e4"/><path d="M517.96,563.50 V578.40 H535.62" stroke="#efd8c9" stroke-width="2.6" fill="none"/><rect x="537.62" y="561.50" width="24.66" height="22.90" fill="#f9e4d6"/><rect x="543.62" y="563.50" width="16.66" height="13.90" fill="#fcf0e4"/><path d="M542.62,563.50 V578.40 H560.28" stroke="#efd8c9" stroke-width="2.6" fill="none"/><rect x="562.28" y="561.50" width="24.66" height="22.90" fill="#f9e4d6"/><rect x="568.28" y="563.50" width="16.66" height="13.90" fill="#fcf0e4"/><path d="M567.28,563.50 V578.40 H584.94" stroke="#efd8c9" stroke-width="2.6" fill="none"/><rect x="365.00" y="584.40" width="24.66" height="22.90" fill="url(#pk)"/><rect x="389.66" y="584.40" width="24.66" height="22.90" fill="url(#pk)"/><rect x="414.32" y="584.40" width="24.66" height="22.90" fill="#f9e4d6"/><rect x="420.32" y="586.40" width="16.66" height="13.90" fill="#fcf0e4"/><path d="M419.32,586.40 V601.30 H436.98" stroke="#efd8c9" stroke-width="2.6" fill="none"/><rect x="438.98" y="584.40" width="24.66" height="22.90" fill="#f9e4d6"/><rect x="444.98" y="586.40" width="16.66" height="13.90" fill="#fcf0e4"/><path d="M443.98,586.40 V601.30 H461.64" stroke="#efd8c9" stroke-width="2.6" fill="none"/><rect x="463.64" y="584.40" width="24.66" height="22.90" fill="#f9e4d6"/><rect x="469.64" y="586.40" width="16.66" height="13.90" fill="#fcf0e4"/><path d="M468.64,586.40 V601.30 H486.30" stroke="#efd8c9" stroke-width="2.6" fill="none"/><rect x="488.30" y="584.40" width="24.66" height="22.90" fill="#f9e4d6"/><rect x="494.30" y="586.40" width="16.66" height="13.90" fill="#fcf0e4"/><path d="M493.30,586.40 V601.30 H510.96" stroke="#efd8c9" stroke-width="2.6" fill="none"/><rect x="512.96" y="584.40" width="24.66" height="22.90" fill="#f9e4d6"/><rect x="518.96" y="586.40" width="16.66" height="13.90" fill="#fcf0e4"/><path d="M517.96,586.40 V601.30 H535.62" stroke="#efd8c9" stroke-width="2.6" fill="none"/><rect x="537.62" y="584.40" width="24.66" height="22.90" fill="#f9e4d6"/><rect x="543.62" y="586.40" width="16.66" height="13.90" fill="#fcf0e4"/><path d="M542.62,586.40 V601.30 H560.28" stroke="#efd8c9" stroke-width="2.6" fill="none"/><rect x="562.28" y="584.40" width="24.66" height="22.90" fill="#f9e4d6"/><rect x="568.28" y="586.40" width="16.66" height="13.90" fill="#fcf0e4"/><path d="M567.28,586.40 V601.30 H584.94" stroke="#efd8c9" stroke-width="2.6" fill="none"/><rect x="365.00" y="607.30" width="24.66" height="22.90" fill="url(#pk)"/><rect x="389.66" y="607.30" width="24.66" height="22.90" fill="#f9e4d6"/><rect x="395.66" y="609.30" width="16.66" height="13.90" fill="#fcf0e4"/><path d="M394.66,609.30 V624.20 H412.32" stroke="#efd8c9" stroke-width="2.6" fill="none"/><rect x="414.32" y="607.30" width="24.66" height="22.90" fill="url(#pk)"/><rect x="438.98" y="607.30" width="24.66" height="22.90" fill="#f9e4d6"/><rect x="444.98" y="609.30" width="16.66" height="13.90" fill="#fcf0e4"/><path d="M443.98,609.30 V624.20 H461.64" stroke="#efd8c9" stroke-width="2.6" fill="none"/><rect x="463.64" y="607.30" width="24.66" height="22.90" fill="#f9e4d6"/><rect x="469.64" y="609.30" width="16.66" height="13.90" fill="#fcf0e4"/><path d="M468.64,609.30 V624.20 H486.30" stroke="#efd8c9" stroke-width="2.6" fill="none"/><rect x="488.30" y="607.30" width="24.66" height="22.90" fill="#f9e4d6"/><rect x="494.30" y="609.30" width="16.66" height="13.90" fill="#fcf0e4"/><path d="M493.30,609.30 V624.20 H510.96" stroke="#efd8c9" stroke-width="2.6" fill="none"/><rect x="512.96" y="607.30" width="24.66" height="22.90" fill="#f9e4d6"/><rect x="518.96" y="609.30" width="16.66" height="13.90" fill="#fcf0e4"/><path d="M517.96,609.30 V624.20 H535.62" stroke="#efd8c9" stroke-width="2.6" fill="none"/><rect x="537.62" y="607.30" width="24.66" height="22.90" fill="#f9e4d6"/><rect x="543.62" y="609.30" width="16.66" height="13.90" fill="#fcf0e4"/><path d="M542.62,609.30 V624.20 H560.28" stroke="#efd8c9" stroke-width="2.6" fill="none"/><rect x="562.28" y="607.30" width="24.66" height="22.90" fill="#f9e4d6"/><rect x="568.28" y="609.30" width="16.66" height="13.90" fill="#fcf0e4"/><path d="M567.28,609.30 V624.20 H584.94" stroke="#efd8c9" stroke-width="2.6" fill="none"/><rect x="365.00" y="630.20" width="24.66" height="22.90" fill="url(#pk)"/><rect x="389.66" y="630.20" width="24.66" height="22.90" fill="#f9e4d6"/><rect x="395.66" y="632.20" width="16.66" height="13.90" fill="#fcf0e4"/><path d="M394.66,632.20 V647.10 H412.32" stroke="#efd8c9" stroke-width="2.6" fill="none"/><rect x="414.32" y="630.20" width="24.66" height="22.90" fill="#f9e4d6"/><rect x="420.32" y="632.20" width="16.66" height="13.90" fill="#fcf0e4"/><path d="M419.32,632.20 V647.10 H436.98" stroke="#efd8c9" stroke-width="2.6" fill="none"/><rect x="438.98" y="630.20" width="24.66" height="22.90" fill="url(#pk)"/><rect x="463.64" y="630.20" width="24.66" height="22.90" fill="#f9e4d6"/><rect x="469.64" y="632.20" width="16.66" height="13.90" fill="#fcf0e4"/><path d="M468.64,632.20 V647.10 H486.30" stroke="#efd8c9" stroke-width="2.6" fill="none"/><rect x="488.30" y="630.20" width="24.66" height="22.90" fill="#f9e4d6"/><rect x="494.30" y="632.20" width="16.66" height="13.90" fill="#fcf0e4"/><path d="M493.30,632.20 V647.10 H510.96" stroke="#efd8c9" stroke-width="2.6" fill="none"/><rect x="512.96" y="630.20" width="24.66" height="22.90" fill="#f9e4d6"/><rect x="518.96" y="632.20" width="16.66" height="13.90" fill="#fcf0e4"/><path d="M517.96,632.20 V647.10 H535.62" stroke="#efd8c9" stroke-width="2.6" fill="none"/><rect x="537.62" y="630.20" width="24.66" height="22.90" fill="#f9e4d6"/><rect x="543.62" y="632.20" width="16.66" height="13.90" fill="#fcf0e4"/><path d="M542.62,632.20 V647.10 H560.28" stroke="#efd8c9" stroke-width="2.6" fill="none"/><rect x="562.28" y="630.20" width="24.66" height="22.90" fill="#f9e4d6"/><rect x="568.28" y="632.20" width="16.66" height="13.90" fill="#fcf0e4"/><path d="M567.28,632.20 V647.10 H584.94" stroke="#efd8c9" stroke-width="2.6" fill="none"/><rect x="365.00" y="653.10" width="24.66" height="22.90" fill="url(#pk)"/><rect x="389.66" y="653.10" width="24.66" height="22.90" fill="#f9e4d6"/><rect x="395.66" y="655.10" width="16.66" height="13.90" fill="#fcf0e4"/><path d="M394.66,655.10 V670.00 H412.32" stroke="#efd8c9" stroke-width="2.6" fill="none"/><rect x="414.32" y="653.10" width="24.66" height="22.90" fill="url(#pk)"/><rect x="438.98" y="653.10" width="24.66" height="22.90" fill="#f9e4d6"/><rect x="444.98" y="655.10" width="16.66" height="13.90" fill="#fcf0e4"/><path d="M443.98,655.10 V670.00 H461.64" stroke="#efd8c9" stroke-width="2.6" fill="none"/><rect x="463.64" y="653.10" width="24.66" height="22.90" fill="url(#pk)"/><rect x="488.30" y="653.10" width="24.66" height="22.90" fill="#f9e4d6"/><rect x="494.30" y="655.10" width="16.66" height="13.90" fill="#fcf0e4"/><path d="M493.30,655.10 V670.00 H510.96" stroke="#efd8c9" stroke-width="2.6" fill="none"/><rect x="512.96" y="653.10" width="24.66" height="22.90" fill="#f9e4d6"/><rect x="518.96" y="655.10" width="16.66" height="13.90" fill="#fcf0e4"/><path d="M517.96,655.10 V670.00 H535.62" stroke="#efd8c9" stroke-width="2.6" fill="none"/><rect x="537.62" y="653.10" width="24.66" height="22.90" fill="#f9e4d6"/><rect x="543.62" y="655.10" width="16.66" height="13.90" fill="#fcf0e4"/><path d="M542.62,655.10 V670.00 H560.28" stroke="#efd8c9" stroke-width="2.6" fill="none"/><rect x="562.28" y="653.10" width="24.66" height="22.90" fill="#f9e4d6"/><rect x="568.28" y="655.10" width="16.66" height="13.90" fill="#fcf0e4"/><path d="M567.28,655.10 V670.00 H584.94" stroke="#efd8c9" stroke-width="2.6" fill="none"/><rect x="365.00" y="676.00" width="24.66" height="22.90" fill="url(#pk)"/><rect x="389.66" y="676.00" width="24.66" height="22.90" fill="#f9e4d6"/><rect x="395.66" y="678.00" width="16.66" height="13.90" fill="#fcf0e4"/><path d="M394.66,678.00 V692.90 H412.32" stroke="#efd8c9" stroke-width="2.6" fill="none"/><rect x="414.32" y="676.00" width="24.66" height="22.90" fill="url(#pk)"/><rect x="438.98" y="676.00" width="24.66" height="22.90" fill="#f9e4d6"/><rect x="444.98" y="678.00" width="16.66" height="13.90" fill="#fcf0e4"/><path d="M443.98,678.00 V692.90 H461.64" stroke="#efd8c9" stroke-width="2.6" fill="none"/><rect x="463.64" y="676.00" width="24.66" height="22.90" fill="#f9e4d6"/><rect x="469.64" y="678.00" width="16.66" height="13.90" fill="#fcf0e4"/><path d="M468.64,678.00 V692.90 H486.30" stroke="#efd8c9" stroke-width="2.6" fill="none"/><rect x="488.30" y="676.00" width="24.66" height="22.90" fill="url(#pk)"/><rect x="512.96" y="676.00" width="24.66" height="22.90" fill="#f9e4d6"/><rect x="518.96" y="678.00" width="16.66" height="13.90" fill="#fcf0e4"/><path d="M517.96,678.00 V692.90 H535.62" stroke="#efd8c9" stroke-width="2.6" fill="none"/><rect x="537.62" y="676.00" width="24.66" height="22.90" fill="#f9e4d6"/><rect x="543.62" y="678.00" width="16.66" height="13.90" fill="#fcf0e4"/><path d="M542.62,678.00 V692.90 H560.28" stroke="#efd8c9" stroke-width="2.6" fill="none"/><rect x="562.28" y="676.00" width="24.66" height="22.90" fill="#f9e4d6"/><rect x="568.28" y="678.00" width="16.66" height="13.90" fill="#fcf0e4"/><path d="M567.28,678.00 V692.90 H584.94" stroke="#efd8c9" stroke-width="2.6" fill="none"/><rect x="365.00" y="698.90" width="24.66" height="22.90" fill="url(#pk)"/><rect x="389.66" y="698.90" width="24.66" height="22.90" fill="#f9e4d6"/><rect x="395.66" y="700.90" width="16.66" height="13.90" fill="#fcf0e4"/><path d="M394.66,700.90 V715.80 H412.32" stroke="#efd8c9" stroke-width="2.6" fill="none"/><rect x="414.32" y="698.90" width="24.66" height="22.90" fill="#f9e4d6"/><rect x="420.32" y="700.90" width="16.66" height="13.90" fill="#fcf0e4"/><path d="M419.32,700.90 V715.80 H436.98" stroke="#efd8c9" stroke-width="2.6" fill="none"/><rect x="438.98" y="698.90" width="24.66" height="22.90" fill="url(#pk)"/><rect x="463.64" y="698.90" width="24.66" height="22.90" fill="#f9e4d6"/><rect x="469.64" y="700.90" width="16.66" height="13.90" fill="#fcf0e4"/><path d="M468.64,700.90 V715.80 H486.30" stroke="#efd8c9" stroke-width="2.6" fill="none"/><rect x="488.30" y="698.90" width="24.66" height="22.90" fill="#f9e4d6"/><rect x="494.30" y="700.90" width="16.66" height="13.90" fill="#fcf0e4"/><path d="M493.30,700.90 V715.80 H510.96" stroke="#efd8c9" stroke-width="2.6" fill="none"/><rect x="512.96" y="698.90" width="24.66" height="22.90" fill="url(#pk)"/><rect x="537.62" y="698.90" width="24.66" height="22.90" fill="#f9e4d6"/><rect x="543.62" y="700.90" width="16.66" height="13.90" fill="#fcf0e4"/><path d="M542.62,700.90 V715.80 H560.28" stroke="#efd8c9" stroke-width="2.6" fill="none"/><rect x="562.28" y="698.90" width="24.66" height="22.90" fill="#f9e4d6"/><rect x="568.28" y="700.90" width="16.66" height="13.90" fill="#fcf0e4"/><path d="M567.28,700.90 V715.80 H584.94" stroke="#efd8c9" stroke-width="2.6" fill="none"/><rect x="365.00" y="721.80" width="24.66" height="22.90" fill="url(#pk)"/><rect x="389.66" y="721.80" width="24.66" height="22.90" fill="#f9e4d6"/><rect x="395.66" y="723.80" width="16.66" height="13.90" fill="#fcf0e4"/><path d="M394.66,723.80 V738.70 H412.32" stroke="#efd8c9" stroke-width="2.6" fill="none"/><rect x="414.32" y="721.80" width="24.66" height="22.90" fill="#f9e4d6"/><rect x="420.32" y="723.80" width="16.66" height="13.90" fill="#fcf0e4"/><path d="M419.32,723.80 V738.70 H436.98" stroke="#efd8c9" stroke-width="2.6" fill="none"/><rect x="438.98" y="721.80" width="24.66" height="22.90" fill="#f9e4d6"/><rect x="444.98" y="723.80" width="16.66" height="13.90" fill="#fcf0e4"/><path d="M443.98,723.80 V738.70 H461.64" stroke="#efd8c9" stroke-width="2.6" fill="none"/><rect x="463.64" y="721.80" width="24.66" height="22.90" fill="#f9e4d6"/><rect x="469.64" y="723.80" width="16.66" height="13.90" fill="#fcf0e4"/><path d="M468.64,723.80 V738.70 H486.30" stroke="#efd8c9" stroke-width="2.6" fill="none"/><rect x="488.30" y="721.80" width="24.66" height="22.90" fill="#f9e4d6"/><rect x="494.30" y="723.80" width="16.66" height="13.90" fill="#fcf0e4"/><path d="M493.30,723.80 V738.70 H510.96" stroke="#efd8c9" stroke-width="2.6" fill="none"/><rect x="512.96" y="721.80" width="24.66" height="22.90" fill="#f9e4d6"/><rect x="518.96" y="723.80" width="16.66" height="13.90" fill="#fcf0e4"/><path d="M517.96,723.80 V738.70 H535.62" stroke="#efd8c9" stroke-width="2.6" fill="none"/><rect x="537.62" y="721.80" width="24.66" height="22.90" fill="url(#pk)"/><rect x="562.28" y="721.80" width="24.66" height="22.90" fill="#f9e4d6"/><rect x="568.28" y="723.80" width="16.66" height="13.90" fill="#fcf0e4"/><path d="M567.28,723.80 V738.70 H584.94" stroke="#efd8c9" stroke-width="2.6" fill="none"/><rect x="365.00" y="744.70" width="24.66" height="22.90" fill="url(#pk)"/><rect x="389.66" y="744.70" width="24.66" height="22.90" fill="#f9e4d6"/><rect x="395.66" y="746.70" width="16.66" height="13.90" fill="#fcf0e4"/><path d="M394.66,746.70 V761.60 H412.32" stroke="#efd8c9" stroke-width="2.6" fill="none"/><rect x="414.32" y="744.70" width="24.66" height="22.90" fill="url(#pk)"/><rect x="438.98" y="744.70" width="24.66" height="22.90" fill="url(#pk)"/><rect x="463.64" y="744.70" width="24.66" height="22.90" fill="url(#pk)"/><rect x="488.30" y="744.70" width="24.66" height="22.90" fill="#f9e4d6"/><rect x="494.30" y="746.70" width="16.66" height="13.90" fill="#fcf0e4"/><path d="M493.30,746.70 V761.60 H510.96" stroke="#efd8c9" stroke-width="2.6" fill="none"/><rect x="512.96" y="744.70" width="24.66" height="22.90" fill="#f9e4d6"/><rect x="518.96" y="746.70" width="16.66" height="13.90" fill="#fcf0e4"/><path d="M517.96,746.70 V761.60 H535.62" stroke="#efd8c9" stroke-width="2.6" fill="none"/><rect x="537.62" y="744.70" width="24.66" height="22.90" fill="#f9e4d6"/><rect x="543.62" y="746.70" width="16.66" height="13.90" fill="#fcf0e4"/><path d="M542.62,746.70 V761.60 H560.28" stroke="#efd8c9" stroke-width="2.6" fill="none"/><rect x="562.28" y="744.70" width="24.66" height="22.90" fill="url(#pk)"/><path d="M365.00,561.50V767.60M365.00,561.50L373.00,553.50M389.66,561.50V767.60M389.66,561.50L397.66,553.50M414.32,561.50V767.60M414.32,561.50L422.32,553.50M438.98,561.50V767.60M438.98,561.50L446.98,553.50M463.64,561.50V767.60M463.64,561.50L471.64,553.50M488.30,561.50V767.60M488.30,561.50L496.30,553.50M512.96,561.50V767.60M512.96,561.50L520.96,553.50M537.62,561.50V767.60M537.62,561.50L545.62,553.50M562.28,561.50V767.60M562.28,561.50L570.28,553.50M586.94,561.50V767.60M586.94,561.50L594.94,553.50M365.00,561.50H586.94M586.94,561.50L594.94,553.50M365.00,584.40H586.94M586.94,584.40L594.94,576.40M365.00,607.30H586.94M586.94,607.30L594.94,599.30M365.00,630.20H586.94M586.94,630.20L594.94,622.20M365.00,653.10H586.94M586.94,653.10L594.94,645.10M365.00,676.00H586.94M586.94,676.00L594.94,668.00M365.00,698.90H586.94M586.94,698.90L594.94,690.90M365.00,721.80H586.94M586.94,721.80L594.94,713.80M365.00,744.70H586.94M586.94,744.70L594.94,736.70M365.00,767.60H586.94M586.94,767.60L594.94,759.60M373.00,553.50H594.94V759.60" stroke="#787574" stroke-width="3" fill="none" stroke-linecap="square"/><path d="M414.32,607.30H438.98V630.20H463.64V653.10H488.30V767.60H414.32Z" stroke="#000" stroke-opacity="0.5" stroke-width="4" fill="none" filter="url(#blur)" transform="translate(1.5,-1.5)"/><path d="M414.32,607.30H438.98V630.20H463.64V653.10H488.30V767.60H414.32Z" stroke="#fbbd0c" stroke-width="4.6" fill="none" stroke-linejoin="round"/><g filter="url(#sh)"><path d="M349.5,450 V432" stroke="#f7b500" stroke-width="4.5"/><polygon points="343,433 356,433 349.5,420" fill="#f7b500"/><path d="M347.5,448.5 H372" stroke="#f7b500" stroke-width="4.5"/><polygon points="371,442 371,455 384,448.5" fill="#f7b500"/></g><text x="353.5" y="419.5" font-size="17" font-weight="bold" font-style="italic" fill="#2b4f9c" stroke="#2b4f9c" stroke-width="0.9" text-anchor="middle">Q</text><text x="402" y="460" font-size="17" font-weight="bold" font-style="italic" fill="#2b4f9c" stroke="#2b4f9c" stroke-width="0.9" text-anchor="middle">K</text><g filter="url(#sh)"><path d="M349.5,780.5 V762.5" stroke="#f7b500" stroke-width="4.5"/><polygon points="343,763.5 356,763.5 349.5,750.5" fill="#f7b500"/><path d="M347.5,779.0 H372" stroke="#f7b500" stroke-width="4.5"/><polygon points="371,772.5 371,785.5 384,779.0" fill="#f7b500"/></g><text x="353.5" y="750.0" font-size="17" font-weight="bold" font-style="italic" fill="#2b4f9c" stroke="#2b4f9c" stroke-width="0.9" text-anchor="middle">Q</text><text x="402" y="790.5" font-size="17" font-weight="bold" font-style="italic" fill="#2b4f9c" stroke="#2b4f9c" stroke-width="0.9" text-anchor="middle">K</text><rect x="365" y="464.8" width="49.80000000000001" height="33.94999999999999" fill="#a0a0a0"/><text x="389.9" y="487.775" font-size="16" font-weight="bold" fill="#4472c4" stroke="#4472c4" stroke-width="0.9" text-anchor="middle">S</text><rect x="414.8" y="464.8" width="73.5" height="33.94999999999999" fill="#fdd466"/><text x="451.55" y="487.775" font-size="16" font-weight="bold" fill="#4472c4" stroke="#4472c4" stroke-width="0.9" text-anchor="middle">A</text><rect x="488.3" y="464.8" width="57.30000000000001" height="33.94999999999999" fill="#a6cf8b"/><text x="516.95" y="487.775" font-size="16" font-weight="bold" fill="#4472c4" stroke="#4472c4" stroke-width="0.9" text-anchor="middle">P</text><rect x="545.6" y="464.8" width="48.39999999999998" height="33.94999999999999" fill="#f5ad80"/><text x="569.8" y="487.775" font-size="16" font-weight="bold" fill="#4472c4" stroke="#4472c4" stroke-width="0.9" text-anchor="middle">O</text><rect x="365" y="794.9" width="49.5" height="34.39999999999998" fill="#a0a0a0"/><text x="389.75" y="818.0999999999999" font-size="16" font-weight="bold" fill="#4472c4" stroke="#4472c4" stroke-width="0.9" text-anchor="middle">S</text><rect x="414.5" y="794.9" width="74.19999999999999" height="34.39999999999998" fill="#fdd466"/><text x="451.6" y="818.0999999999999" font-size="16" font-weight="bold" fill="#4472c4" stroke="#4472c4" stroke-width="0.9" text-anchor="middle">A</text><rect x="488.7" y="794.9" width="56.599999999999966" height="34.39999999999998" fill="#a6cf8b"/><text x="517.0" y="818.0999999999999" font-size="16" font-weight="bold" fill="#4472c4" stroke="#4472c4" stroke-width="0.9" text-anchor="middle">P</text><rect x="545.3" y="794.9" width="48.700000000000045" height="34.39999999999998" fill="#f5ad80"/><text x="569.65" y="818.0999999999999" font-size="16" font-weight="bold" fill="#4472c4" stroke="#4472c4" stroke-width="0.9" text-anchor="middle">O</text><g font-size="24.3" font-weight="bold" font-style="italic" fill="#000" text-anchor="middle"><text x="663" y="304.8">Calculate</text><text x="662" y="334">logits</text><text x="658.6" y="637.2">Calculate</text><text x="658" y="666.3">logits</text></g><path d="M624.8,362 L679.4,362 L679.4,350 L698.5,368.3 L679.4,386.6 L679.4,375 L624.8,375 Z" fill="#4472c4"/><path d="M620.2,694 L676.3,694 L676.3,682 L694.2,700.0 L676.3,718 L676.3,707.5 L620.2,707.5 Z" fill="#4472c4"/><path d="M727,252.2 H936" stroke="#7f7f7f" stroke-width="3"/><polygon points="934,246.2 946,252.2 934,258.2" fill="#7f7f7f"/><path d="M727,309.2 H936" stroke="#7f7f7f" stroke-width="3"/><polygon points="934,303.2 946,309.2 934,315.2" fill="#7f7f7f"/><path d="M727,354.3 H936" stroke="#7f7f7f" stroke-width="3"/><polygon points="934,348.3 946,354.3 934,360.3" fill="#7f7f7f"/><rect x="738.6" y="268.5" width="26.199999999999932" height="143.5" fill="#d6e4f3" stroke="#bdbdbd" stroke-width="1.8"/><rect x="778" y="338" width="26" height="74" fill="#fbe0d3" stroke="#bdbdbd" stroke-width="1.8"/><rect x="817" y="316" width="26.5" height="96" fill="#dfead5" stroke="#bdbdbd" stroke-width="1.8"/><rect x="856.4" y="383" width="25.899999999999977" height="29" fill="#fff0c8" stroke="#bdbdbd" stroke-width="1.8"/><rect x="896" y="361" width="26" height="51" fill="#efefef" stroke="#bdbdbd" stroke-width="1.8"/><path d="M727,412.5 H937" stroke="#000" stroke-width="3.2"/><polygon points="935,406.5 947,412.5 935,418.5" fill="#000"/><path d="M727,585.7 H936" stroke="#7f7f7f" stroke-width="3"/><polygon points="934,579.7 946,585.7 934,591.7" fill="#7f7f7f"/><path d="M727,642.1 H936" stroke="#7f7f7f" stroke-width="3"/><polygon points="934,636.1 946,642.1 934,648.1" fill="#7f7f7f"/><path d="M727,686.8 H936" stroke="#7f7f7f" stroke-width="3"/><polygon points="934,680.8 946,686.8 934,692.8" fill="#7f7f7f"/><rect x="738.6" y="627.9" width="27.199999999999932" height="116.60000000000002" fill="#8fb9e0" stroke="#bdbdbd" stroke-width="1.8"/><rect x="778" y="597.7" width="27" height="146.79999999999995" fill="#f4a77a" stroke="#bdbdbd" stroke-width="1.8"/><rect x="817" y="674.8" width="27" height="69.70000000000005" fill="#dfead3" stroke="#bdbdbd" stroke-width="1.8"/><rect x="856" y="706" width="27.5" height="38.5" fill="#ffd467" stroke="#bdbdbd" stroke-width="1.8"/><rect x="896" y="689" width="27" height="55.5" fill="#eeeeee" stroke="#bdbdbd" stroke-width="1.8"/><path d="M727,744.8 H937" stroke="#000" stroke-width="3.2"/><polygon points="935,738.8 947,744.8 935,750.8" fill="#000"/><path d="M961.7,323 L995.3,323 L995.3,311.7 L1013.2,329.85 L995.3,348 L995.3,336 L961.7,336 Z" fill="#4472c4"/><path d="M963.8,655.8 L996.3,655.8 L996.3,645 L1014,662.85 L996.3,680.7 L996.3,669.4 L963.8,669.4 Z" fill="#4472c4"/><text x="1029" y="339.4" font-size="32.5" fill="#375623">B. Woman</text><text x="1028" y="672" font-size="33" fill="#375623">A. Man</text><path d="M1120.6,359.7 L1151.8,391 M1151.8,359.7 L1120.6,391" stroke="#ee0000" stroke-width="7.2"/><linearGradient id="ckg" x1="0" y1="0" x2="0" y2="1"><stop offset="0" stop-color="#55e050"/><stop offset="0.35" stop-color="#10cc12"/><stop offset="1" stop-color="#00bf08"/></linearGradient><rect x="1115.6" y="691.3" width="35.9" height="35.8" rx="5.5" fill="url(#ckg)" stroke="#12881c" stroke-width="1.4"/><polygon points="1120.8,708 1125.4,707 1130.4,714.3 1141.9,697.5 1145.6,697.3 1130.4,722.2" fill="#fff"/></svg></body></html>
